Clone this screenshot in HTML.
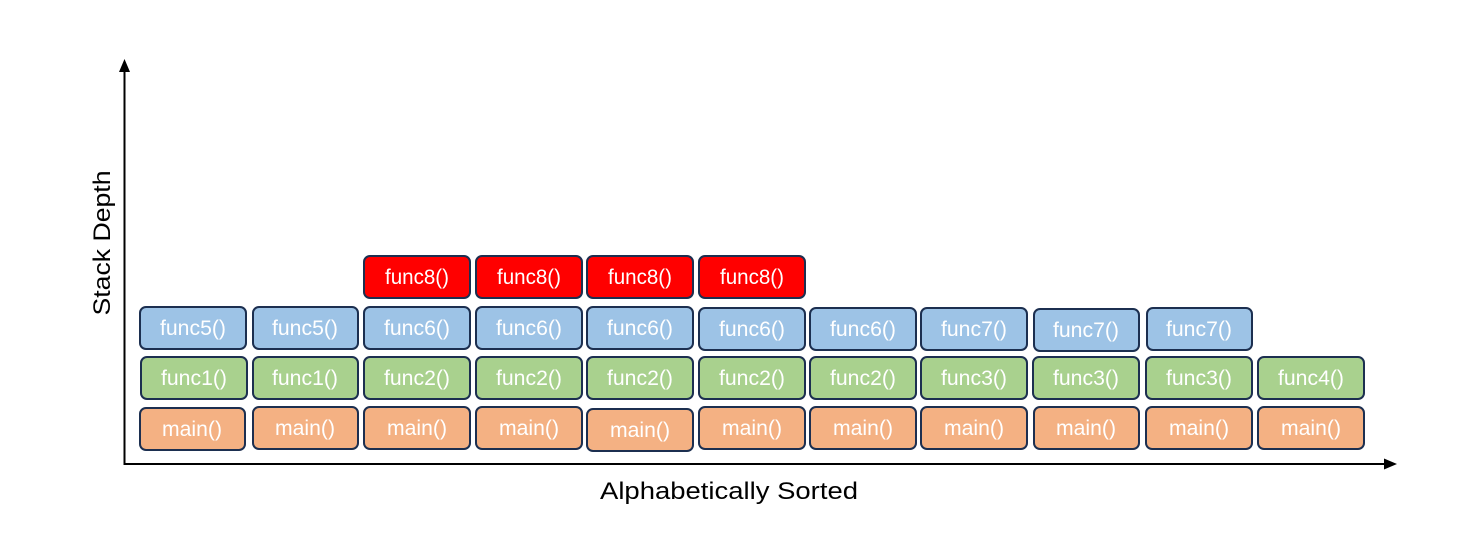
<!DOCTYPE html>
<html><head><meta charset="utf-8"><style>
html,body{margin:0;padding:0;background:#fff;}
svg{display:block;}
text{font-family:"Liberation Sans",sans-serif;}
</style></head><body>
<svg width="1457" height="548" viewBox="0 0 1457 548" xmlns="http://www.w3.org/2000/svg">
<defs>
<style>
.b{stroke:#1c2f50;stroke-width:2;}
.o{fill:#f4b183}.g{fill:#a9d18e}.u{fill:#9dc3e6}.r{fill:#ff0000}
.t{fill:#fff;font-size:21px;text-anchor:middle;}
</style>
</defs>
<line x1="124.5" y1="70" x2="124.5" y2="465" stroke="#000" stroke-width="2"/>
<polygon points="124.5,59 119,72 130,72" fill="#000"/>
<line x1="123.5" y1="464" x2="1386" y2="464" stroke="#000" stroke-width="2"/>
<polygon points="1397,464 1384,458.5 1384,469.5" fill="#000"/>
<text x="0" y="0" transform="translate(110,243) rotate(-90)" font-size="24" text-anchor="middle" textLength="145" lengthAdjust="spacingAndGlyphs">Stack Depth</text>
<text x="600" y="499" font-size="24" textLength="258" lengthAdjust="spacingAndGlyphs">Alphabetically Sorted</text>

<g>
<rect class="b r" x="364" y="256" width="106" height="42" rx="6"/><text class="t" x="417" y="284" textLength="64" lengthAdjust="spacingAndGlyphs">func8()</text>
<rect class="b r" x="476" y="256" width="106" height="42" rx="6"/><text class="t" x="529" y="284" textLength="64" lengthAdjust="spacingAndGlyphs">func8()</text>
<rect class="b r" x="587" y="256" width="106" height="42" rx="6"/><text class="t" x="640" y="284" textLength="64" lengthAdjust="spacingAndGlyphs">func8()</text>
<rect class="b r" x="699" y="256" width="106" height="42" rx="6"/><text class="t" x="752" y="284" textLength="64" lengthAdjust="spacingAndGlyphs">func8()</text>
</g>
<g>
<rect class="b u" x="140" y="307" width="106" height="42" rx="6"/><text class="t" x="193" y="335" textLength="66" lengthAdjust="spacingAndGlyphs">func5()</text>
<rect class="b u" x="253" y="307" width="105" height="42" rx="6"/><text class="t" x="305" y="335" textLength="66" lengthAdjust="spacingAndGlyphs">func5()</text>
<rect class="b u" x="364" y="307" width="106" height="42" rx="6"/><text class="t" x="417" y="335" textLength="66" lengthAdjust="spacingAndGlyphs">func6()</text>
<rect class="b u" x="476" y="307" width="106" height="42" rx="6"/><text class="t" x="529" y="335" textLength="66" lengthAdjust="spacingAndGlyphs">func6()</text>
<rect class="b u" x="587" y="307" width="106" height="42" rx="6"/><text class="t" x="640" y="335" textLength="66" lengthAdjust="spacingAndGlyphs">func6()</text>
<rect class="b u" x="699" y="308" width="106" height="42" rx="6"/><text class="t" x="752" y="336" textLength="66" lengthAdjust="spacingAndGlyphs">func6()</text>
<rect class="b u" x="810" y="308" width="106" height="42" rx="6"/><text class="t" x="863" y="336" textLength="66" lengthAdjust="spacingAndGlyphs">func6()</text>
<rect class="b u" x="921" y="308" width="106" height="42" rx="6"/><text class="t" x="974" y="336" textLength="66" lengthAdjust="spacingAndGlyphs">func7()</text>
<rect class="b u" x="1034" y="309" width="105" height="42" rx="6"/><text class="t" x="1086" y="337" textLength="66" lengthAdjust="spacingAndGlyphs">func7()</text>
<rect class="b u" x="1147" y="308" width="105" height="42" rx="6"/><text class="t" x="1199" y="336" textLength="66" lengthAdjust="spacingAndGlyphs">func7()</text>
</g>
<g>
<rect class="b g" x="141" y="357" width="106" height="42" rx="6"/><text class="t" x="194" y="385" textLength="66" lengthAdjust="spacingAndGlyphs">func1()</text>
<rect class="b g" x="253" y="357" width="105" height="42" rx="6"/><text class="t" x="305" y="385" textLength="66" lengthAdjust="spacingAndGlyphs">func1()</text>
<rect class="b g" x="364" y="357" width="106" height="42" rx="6"/><text class="t" x="417" y="385" textLength="66" lengthAdjust="spacingAndGlyphs">func2()</text>
<rect class="b g" x="476" y="357" width="106" height="42" rx="6"/><text class="t" x="529" y="385" textLength="66" lengthAdjust="spacingAndGlyphs">func2()</text>
<rect class="b g" x="587" y="357" width="106" height="42" rx="6"/><text class="t" x="640" y="385" textLength="66" lengthAdjust="spacingAndGlyphs">func2()</text>
<rect class="b g" x="699" y="357" width="106" height="42" rx="6"/><text class="t" x="752" y="385" textLength="66" lengthAdjust="spacingAndGlyphs">func2()</text>
<rect class="b g" x="810" y="357" width="106" height="42" rx="6"/><text class="t" x="863" y="385" textLength="66" lengthAdjust="spacingAndGlyphs">func2()</text>
<rect class="b g" x="921" y="357" width="106" height="42" rx="6"/><text class="t" x="974" y="385" textLength="66" lengthAdjust="spacingAndGlyphs">func3()</text>
<rect class="b g" x="1033" y="357" width="106" height="42" rx="6"/><text class="t" x="1086" y="385" textLength="66" lengthAdjust="spacingAndGlyphs">func3()</text>
<rect class="b g" x="1146" y="357" width="106" height="42" rx="6"/><text class="t" x="1199" y="385" textLength="66" lengthAdjust="spacingAndGlyphs">func3()</text>
<rect class="b g" x="1258" y="357" width="106" height="42" rx="6"/><text class="t" x="1311" y="385" textLength="66" lengthAdjust="spacingAndGlyphs">func4()</text>
</g>
<g>
<rect class="b o" x="140" y="408" width="105" height="42" rx="6"/><text class="t" x="192" y="436" textLength="60" lengthAdjust="spacingAndGlyphs">main()</text>
<rect class="b o" x="253" y="407" width="105" height="42" rx="6"/><text class="t" x="305" y="435" textLength="60" lengthAdjust="spacingAndGlyphs">main()</text>
<rect class="b o" x="364" y="407" width="106" height="42" rx="6"/><text class="t" x="417" y="435" textLength="60" lengthAdjust="spacingAndGlyphs">main()</text>
<rect class="b o" x="476" y="407" width="106" height="42" rx="6"/><text class="t" x="529" y="435" textLength="60" lengthAdjust="spacingAndGlyphs">main()</text>
<rect class="b o" x="587" y="409" width="106" height="42" rx="6"/><text class="t" x="640" y="437" textLength="60" lengthAdjust="spacingAndGlyphs">main()</text>
<rect class="b o" x="699" y="407" width="106" height="42" rx="6"/><text class="t" x="752" y="435" textLength="60" lengthAdjust="spacingAndGlyphs">main()</text>
<rect class="b o" x="810" y="407" width="106" height="42" rx="6"/><text class="t" x="863" y="435" textLength="60" lengthAdjust="spacingAndGlyphs">main()</text>
<rect class="b o" x="921" y="407" width="106" height="42" rx="6"/><text class="t" x="974" y="435" textLength="60" lengthAdjust="spacingAndGlyphs">main()</text>
<rect class="b o" x="1034" y="407" width="105" height="42" rx="6"/><text class="t" x="1086" y="435" textLength="60" lengthAdjust="spacingAndGlyphs">main()</text>
<rect class="b o" x="1146" y="407" width="106" height="42" rx="6"/><text class="t" x="1199" y="435" textLength="60" lengthAdjust="spacingAndGlyphs">main()</text>
<rect class="b o" x="1258" y="407" width="106" height="42" rx="6"/><text class="t" x="1311" y="435" textLength="60" lengthAdjust="spacingAndGlyphs">main()</text>
</g>
</svg>
</body></html>
